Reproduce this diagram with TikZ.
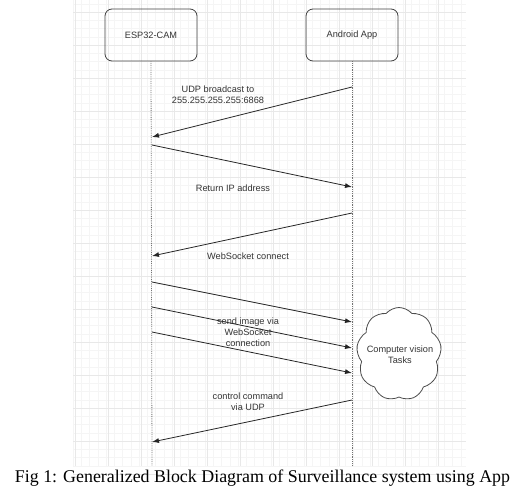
\documentclass[tikz,border=0pt]{standalone}
\usepackage{fontspec}
\setmainfont{Liberation Serif}
\newfontfamily\diagfont{Liberation Sans}
\usetikzlibrary{shapes.symbols,arrows.meta}

\begin{document}
\begin{tikzpicture}[x=1pt,y=-1pt]
                    \tikzstyle{lane}=[draw=black!75,thick,rounded corners=7pt,minimum width=92pt,minimum height=52pt,font=\diagfont\fontsize{9.2}{11}\selectfont,text=black!80]
                    \tikzstyle{msg}=[font=\diagfont\fontsize{9.2}{11}\selectfont,text=black!80,align=center,inner sep=1pt]
                    \tikzstyle{life}=[densely dotted,thick,black!55]
                    \tikzstyle{arr}=[-{Latex[length=7pt,width=5pt]},thick,black!85]
                    \useasboundingbox (0,0) rectangle (525,495);

                    % grid
                    \foreach \i in {0,...,47} {
                        \draw [black!4] (73+8.25*\i,0) -- (73+8.25*\i,466);
                    }
                    \foreach \i in {0,...,56} {
                        \draw [black!4] (73,3.75+8.25*\i) -- (466,3.75+8.25*\i);
                    }
                    \foreach \i in {0,...,11} {
                        \draw [black!9] (75+33*\i,0) -- (75+33*\i,466);
                    }
                    \foreach \i in {0,...,14} {
                        \draw [black!9] (73,12+33*\i) -- (466,12+33*\i);
                    }

                    \node (esp) at (151,35) [lane] {ESP32-CAM};
                    \node (app) at (352,35) [lane] {Android App};

                    \coordinate (espend) at (152,466);
                    \coordinate (append) at (352,466);
                    \draw [life] (esp.south) -- (espend);
                    \draw [life] (app.south) -- (append);

                    \coordinate (a1) at (352,87);
                    \coordinate (e1) at (152,137);
                    \coordinate (e2) at (152,145);
                    \coordinate (a2) at (352,187);
                    \coordinate (a3) at (352,213);
                    \coordinate (e3) at (152,256);
                    \coordinate (e4) at (152,282);
                    \coordinate (a4) at (352,322);
                    \coordinate (e5) at (152,307);
                    \coordinate (a5) at (352,348);
                    \coordinate (e6) at (152,332);
                    \coordinate (a6) at (352,373);
                    \coordinate (a7) at (352,400);
                    \coordinate (e7) at (152,442);

                    \draw [arr] (a1) -- (e1);
                    \draw [arr] (e2) -- (a2);
                    \draw [arr] (a3) -- (e3);
                    \draw [arr] (e4) -- (a4);
                    \draw [arr] (e5) -- (a5);
                    \draw [arr] (e6) -- (a6);
                    \draw [arr] (a7) -- (e7);

                    \node (udp) at (218,95) [msg] {UDP broadcast to\\255.255.255.255:6868};
                    \node (ret) at (233,188) [msg] {Return IP address};
                    \node (ws) at (248,256) [msg] {WebSocket connect};
                    \node (img) at (248,332) [msg] {send image via\\WebSocket\\connection};
                    \node (ctl) at (248,402) [msg] {control command\\via UDP};

                    \node (cloudshape) at (399,354) [cloud,cloud puffs=9,cloud puff arc=100,draw=black!70,thick,fill=white,inner sep=0pt,minimum width=85pt,minimum height=93pt] {};
                    \node (cv) at (400,355) [msg] {Computer vision\\Tasks};

                    \node (cap) at (262.5,478) [font=\fontsize{17.9}{21}\selectfont] {Fig 1: Generalized Block Diagram of Surveillance system using App};
                \end{tikzpicture}
\end{document}
